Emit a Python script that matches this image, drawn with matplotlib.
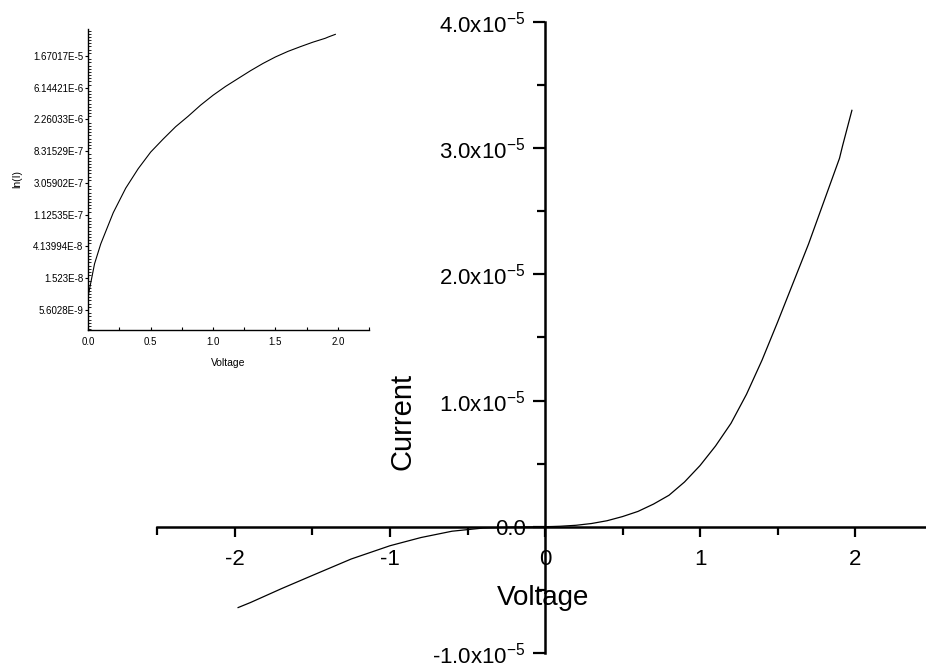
import numpy as np
import matplotlib
matplotlib.use('Agg')
import matplotlib.pyplot as plt
from matplotlib.ticker import MultipleLocator, FixedLocator, NullFormatter

plt.rcParams['font.family'] = ['Liberation Sans', 'DejaVu Sans']
plt.rcParams['mathtext.fontset'] = 'custom'
plt.rcParams['mathtext.rm'] = 'Liberation Sans'
plt.rcParams['mathtext.default'] = 'rm'

# I-V data (negative and positive bias branches)
v_neg = [-1.98, -1.9, -1.7, -1.5, -1.25, -1.0, -0.8, -0.6, -0.4, -0.2]
i_neg = [-0.64e-5, -0.60e-5, -0.49e-5, -0.385e-5, -0.255e-5, -0.15e-5,
         -0.085e-5, -0.035e-5, -0.01e-5, -0.002e-5]

v_pos = [0.0, 0.05, 0.1, 0.2, 0.3, 0.4, 0.5, 0.6, 0.7, 0.8, 0.9, 1.0,
         1.1, 1.2, 1.3, 1.4, 1.5, 1.6, 1.7, 1.8, 1.9, 1.92, 1.935, 1.98]
i_pos = [8.9e-9, 2.4e-8, 4.5e-8, 1.2e-7, 2.6e-7, 4.8e-7, 8.1e-7, 1.22e-6,
         1.8e-6, 2.5e-6, 3.55e-6, 4.85e-6, 6.4e-6, 8.2e-6, 1.05e-5, 1.32e-5,
         1.62e-5, 1.93e-5, 2.24e-5, 2.58e-5, 2.92e-5, 3.02e-5, 3.09e-5, 3.30e-5]

x_ticks = [-2, -1, 0, 1, 2]
x_tick_labels = ['-2', '-1', '0', '1', '2']
y_ticks = [-1e-5, 0.0, 1e-5, 2e-5, 3e-5, 4e-5]
y_tick_labels = ['-1.0x10$^{-5}$', '0.0', '1.0x10$^{-5}$', '2.0x10$^{-5}$',
                 '3.0x10$^{-5}$', '4.0x10$^{-5}$']

inset_x_ticks = [0.0, 0.5, 1.0, 1.5, 2.0]
inset_x_labels = ['0.0', '0.5', '1.0', '1.5', '2.0']
inset_ln_ticks = [-19, -18, -17, -16, -15, -14, -13, -12, -11]
inset_y_labels = ['5.6028E-9', '1.523E-8', '4.13994E-8', '1.12535E-7',
                  '3.05902E-7', '8.31529E-7', '2.26033E-6', '6.14421E-6',
                  '1.67017E-5']

fig = plt.figure(figsize=(9.26, 6.69), dpi=100)

# main I-V plot with axes crossing at the origin
ax = fig.add_axes([157.5 / 926, 16 / 669, 775 / 926, 631 / 669])
ax.patch.set_alpha(0)
ax.plot(v_neg + v_pos, i_neg + i_pos, color='black', lw=0.9)
ax.set_xlim(-2.5, 2.5)
ax.set_ylim(-1e-5, 4e-5)

ax.spines['left'].set_position(('data', 0))
ax.spines['bottom'].set_position(('data', 0))
ax.spines['top'].set_visible(False)
ax.spines['right'].set_visible(False)
for s in ['left', 'bottom']:
    ax.spines[s].set_linewidth(1.8)

ax.set_xticks(x_ticks)
ax.set_xticklabels(x_tick_labels)
ax.xaxis.set_minor_locator(MultipleLocator(0.5))
ax.set_yticks(y_ticks)
ax.set_yticklabels(y_tick_labels)
ax.yaxis.set_minor_locator(MultipleLocator(0.5e-5))
ax.tick_params(axis='x', which='major', direction='out', length=7, width=1.6,
               labelsize=16, pad=9)
ax.tick_params(axis='x', which='minor', direction='out', length=6, width=1.6)
ax.tick_params(axis='y', which='major', direction='out', length=9, width=1.6,
               labelsize=16, pad=5)
ax.tick_params(axis='y', which='minor', direction='out', length=6, width=1.6)

ax.set_xlabel('Voltage', fontsize=20, va='center')
ax.xaxis.set_label_coords(0.497, 0.087)
ax.set_ylabel('Current', fontsize=21, va='center')
ax.yaxis.set_label_coords(0.316, 0.367)

# inset: log current vs positive voltage
ins = fig.add_axes([88.3 / 926, 339 / 669, 280.7 / 926, 301 / 669])
ins.patch.set_alpha(0)
ins.plot(v_pos, i_pos, color='black', lw=0.8)
ins.set_yscale('log', base=np.e)
ins.set_xlim(0, 2.25)
ins.set_ylim(np.exp(-19.63), np.exp(-10.15))
ins.spines['top'].set_visible(False)
ins.spines['right'].set_visible(False)
for s in ['left', 'bottom']:
    ins.spines[s].set_linewidth(1.0)

ins.xaxis.set_major_locator(FixedLocator(inset_x_ticks))
ins.set_xticklabels(inset_x_labels)
ins.xaxis.set_minor_locator(MultipleLocator(0.25))
ins.yaxis.set_major_locator(FixedLocator(np.exp(inset_ln_ticks)))
ins.set_yticklabels(inset_y_labels)
minor_ln = [k + j / 10 for k in range(-20, -9) for j in range(1, 10)]
ins.yaxis.set_minor_locator(FixedLocator(np.exp(minor_ln)))
ins.yaxis.set_minor_formatter(NullFormatter())
ins.tick_params(axis='x', which='both', direction='in', length=2.5, width=0.8,
                labelsize=7, pad=5)
ins.tick_params(axis='y', which='major', direction='out', length=2.5,
                width=0.8, labelsize=7, pad=1)
ins.tick_params(axis='y', which='minor', direction='in', length=1.8,
                width=0.6)
ins.set_xlabel('Voltage', fontsize=7.5, labelpad=8)
ins.set_ylabel('ln(I)', fontsize=7.5, labelpad=8)

fig.savefig('out.png', dpi=100)
